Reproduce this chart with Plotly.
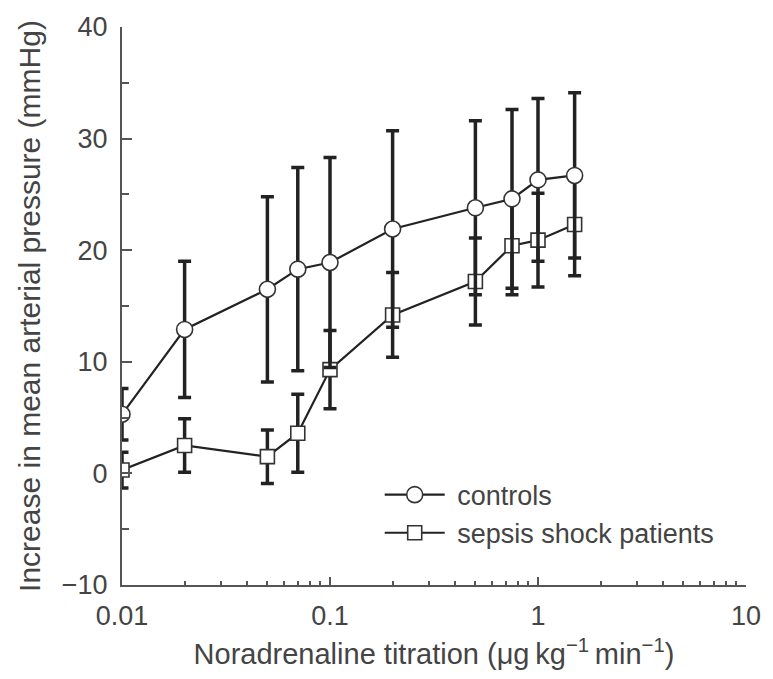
import plotly.graph_objects as go

# ---- data ----
dose = [0.01, 0.02, 0.05, 0.07, 0.1, 0.2, 0.5, 0.75, 1.0, 1.5]
controls_mean = [5.3, 12.9, 16.5, 18.3, 18.9, 21.9, 23.8, 24.6, 26.3, 26.7]
controls_sd = [2.3, 6.1, 8.3, 9.1, 9.4, 8.8, 7.8, 8.0, 7.3, 7.4]
sepsis_mean = [0.3, 2.5, 1.5, 3.6, 9.3, 14.2, 17.2, 20.4, 20.9, 22.3]
sepsis_sd = [1.6, 2.4, 2.4, 3.5, 3.5, 3.8, 3.9, 4.4, 4.2, 4.6]

x_ticks = [0.01, 0.1, 1, 10]
x_tick_text = ["0.01", "0.1", "1", "10"]
y_ticks = [-10, 0, 10, 20, 30, 40]
y_tick_text = ["\u221210", "0", "10", "20", "30", "40"]

DARK = "#222222"
AXIS = "#555555"
TEXT = "#444444"
FONT = "Liberation Sans, Arial, sans-serif"

fig = go.Figure()

fig.add_trace(go.Scatter(
    x=dose, y=sepsis_mean, name="\u00a0sepsis shock patients",
    mode="lines+markers", legendrank=2,
    line=dict(color=DARK, width=2.2),
    marker=dict(symbol="square", size=14, color="white",
                line=dict(color="#333333", width=1.6)),
    error_y=dict(type="data", array=sepsis_sd, visible=True,
                 color=DARK, thickness=3.5, width=6.5),
))
fig.add_trace(go.Scatter(
    x=dose, y=controls_mean, name="\u00a0controls",
    mode="lines+markers", legendrank=1,
    line=dict(color=DARK, width=2.2),
    marker=dict(symbol="circle", size=16, color="white",
                line=dict(color="#333333", width=1.6)),
    error_y=dict(type="data", array=controls_sd, visible=True,
                 color=DARK, thickness=3.5, width=6.5),
))

fig.update_layout(
    width=773, height=679,
    margin=dict(l=122, r=20, t=23, b=94),
    paper_bgcolor="white", plot_bgcolor="white",
    font=dict(family=FONT, color=TEXT, size=27),
    showlegend=True,
    legend=dict(x=0.413, y=0.205, xanchor="left", yanchor="top",
                bgcolor="rgba(0,0,0,0)", font=dict(size=27, color=TEXT),
                itemwidth=60, tracegroupgap=0),
)

fig.update_xaxes(
    type="log", range=[-2, 1],
    tickvals=x_ticks, ticktext=x_tick_text,
    ticks="inside", ticklen=8, tickwidth=1.5, tickcolor=AXIS,
    minor=dict(dtick="D1", ticks="inside", ticklen=4, tickwidth=1.5,
               tickcolor=AXIS, showgrid=False),
    showline=True, linecolor=AXIS, linewidth=2,
    showgrid=False, zeroline=False,
    tickfont=dict(size=27, color=TEXT), ticklabelstandoff=6,
    title=dict(text="Noradrenaline titration (\u03bcg\u2009kg<sup>\u22121</sup>\u2009min<sup>\u22121</sup>)",
               font=dict(size=29, color=TEXT), standoff=13),
)
fig.update_yaxes(
    range=[-10, 40], tickvals=y_ticks, ticktext=y_tick_text,
    ticks="inside", ticklen=10, tickwidth=1.5, tickcolor=AXIS,
    minor=dict(dtick=5, ticks="inside", ticklen=7, tickwidth=1.5,
               tickcolor=AXIS, showgrid=False),
    showline=True, linecolor=AXIS, linewidth=2,
    showgrid=False, zeroline=False,
    tickfont=dict(size=27, color=TEXT), ticklabelstandoff=7,
    title=dict(text="Increase in mean arterial pressure (mmHg)",
               font=dict(size=30, color=TEXT), standoff=12),
)

fig.write_html("out.html")
